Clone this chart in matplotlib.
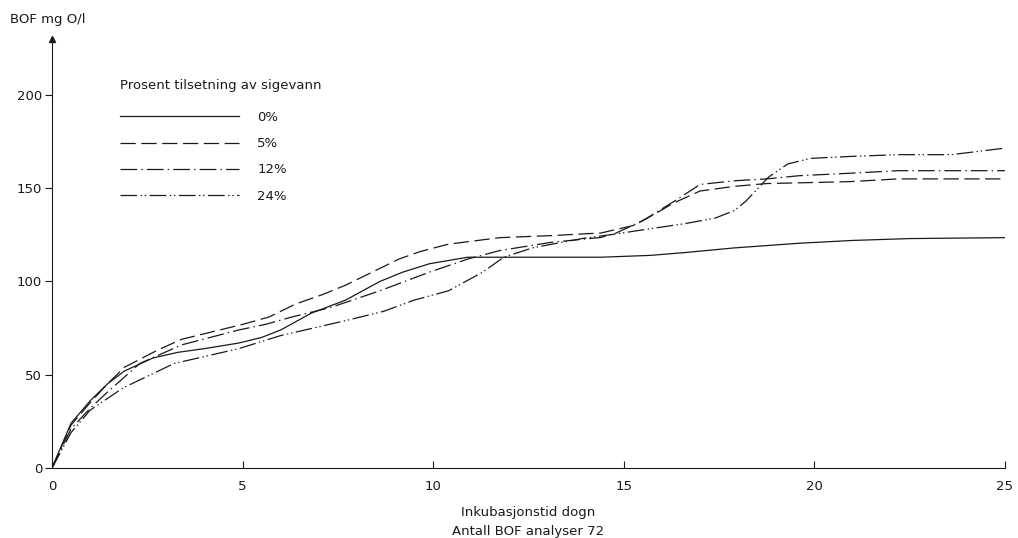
import numpy as np
import matplotlib
matplotlib.use("Agg")
import matplotlib.pyplot as plt

# BOF over inkubasjonstid
dager_0 = [0, 0.5, 1.0, 1.45, 1.9, 2.65, 3.3, 4.0, 4.9, 5.5, 6.0, 6.8, 7.7, 8.6,
           9.2, 9.9, 10.9, 11.9, 13.0, 14.4, 15.7, 16.6, 17.9, 19.6, 21.0, 22.5, 25]
bof_0 = [0, 24, 36, 45, 52, 59, 62, 64, 67, 70, 74, 83, 90, 100,
         105, 109.5, 113, 113, 113, 113, 114, 115.5, 118, 120.5, 122, 123, 123.5]

dager_5 = [0, 0.5, 1.0, 1.45, 1.9, 2.75, 3.4, 4.2, 5.0, 5.7, 6.4, 7.1, 7.7, 8.6,
           9.1, 9.65, 10.4, 11.75, 13.1, 14.4, 15.25, 15.8, 16.3, 17.0, 17.9,
           18.75, 20.9, 22.2, 25]
bof_5 = [0, 23, 35, 45, 54, 63, 69, 73, 77, 81, 88, 93, 98, 107,
         112, 116, 120, 123.5, 124.6, 126, 130, 136, 142, 148.5, 151,
         152.5, 153.5, 155, 155]

dager_12 = [0, 0.5, 1.0, 1.45, 2.3, 3.4, 4.9, 5.6, 6.3, 7.3, 8.6, 9.9, 10.9,
            11.75, 13.1, 14.4, 14.8, 15.5, 16.4, 17.0, 17.9, 18.75, 19.6, 20.9,
            22.2, 25]
bof_12 = [0, 21, 32, 40.6, 56, 66, 74, 77, 81, 86, 95, 105, 112,
          116.6, 121, 123.6, 126, 132.6, 144, 152, 154, 155, 156.7, 158,
          159.4, 159.4]

dager_24 = [0, 0.5, 1.0, 1.87, 3.2, 4.9, 6.0, 7.7, 8.7, 9.5, 10.4, 11.3, 11.85,
            12.6, 13.9, 14.8, 15.6, 16.6, 17.4, 17.9, 18.2, 18.8, 19.3, 19.9,
            20.9, 22.2, 23.6, 25]
bof_24 = [0, 19, 31, 43, 56, 64, 71, 79, 84, 90, 95, 105, 113,
          118, 123, 125.5, 128, 131, 134, 138, 143, 156, 163, 166,
          167, 168, 168, 171.5]

etiketter = ["0%", "5%", "12%", "24%"]
x_ticks = [0, 5, 10, 15, 20, 25]
y_ticks = [0, 50, 100, 150, 200]

plt.rcParams["font.family"] = "DejaVu Sans"
plt.rcParams["lines.scale_dashes"] = False

fig = plt.figure(figsize=(10.18, 5.38), dpi=100)
ax = fig.add_axes([52 / 1018, 1 - 468 / 538, 953 / 1018, 429 / 538])

farge = "#1a1a1a"
lw = 0.9
ax.plot(dager_0, bof_0, color=farge, lw=lw, label=etiketter[0])
ax.plot(dager_5, bof_5, color=farge, lw=lw, dashes=(11, 4), label=etiketter[1])
ax.plot(dager_12, bof_12, color=farge, lw=lw, dashes=(12, 3, 1, 3), label=etiketter[2])
ax.plot(dager_24, bof_24, color=farge, lw=lw, dashes=(12, 2.5, 1, 2, 1, 2.5), label=etiketter[3])

ax.set_xlim(0, 25)
ax.set_ylim(0, 230)
ax.set_xticks(x_ticks)
ax.set_yticks(y_ticks)
ax.tick_params(axis="x", direction="in", length=5, width=0.8, colors=farge,
               labelsize=9.5, pad=9)
ax.tick_params(axis="y", direction="out", length=5, width=0.8, colors=farge,
               labelsize=9.5, pad=2)

ax.spines["top"].set_visible(False)
ax.spines["right"].set_visible(False)
for s in ["left", "bottom"]:
    ax.spines[s].set_linewidth(0.8)
    ax.spines[s].set_color(farge)
ax.plot(0, 1, marker="^", color=farge, markersize=5, transform=ax.transAxes,
        clip_on=False)

ax.set_xlabel("Inkubasjonstid dogn\nAntall BOF analyser 72", fontsize=9.5,
              color=farge, labelpad=9, linespacing=1.6)
fig.text(10 / 1018, 1 - 20 / 538, "BOF mg O/l", fontsize=9.5, color=farge,
         va="center", ha="left")

# legende: tittel som egen tekst, saa linjene under
ax.text(68 / 953, (468 - 85) / 429, "Prosent tilsetning av sigevann",
        transform=ax.transAxes, fontsize=9.5, color=farge, va="center", ha="left")
leg = ax.legend(loc="upper left", bbox_to_anchor=(68 / 953, (468 - 111) / 429),
                frameon=False, fontsize=9.5, handlelength=9.0,
                handletextpad=1.4, labelspacing=1.0,
                borderpad=0, borderaxespad=0)
for t in leg.get_texts():
    t.set_color(farge)

fig.savefig("out.png", dpi=100)
